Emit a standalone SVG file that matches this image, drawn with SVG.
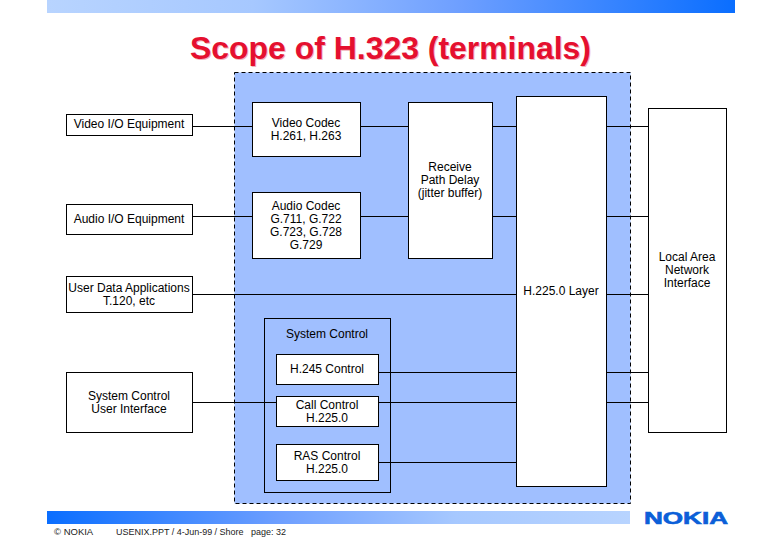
<svg xmlns="http://www.w3.org/2000/svg" width="780" height="540" viewBox="0 0 780 540">
<style>
.b{fill:#fff;stroke:#000;stroke-width:1}
.c{fill:none;stroke:#000;stroke-width:1}
text{font-family:"Liberation Sans",Arial,sans-serif;font-size:12px;fill:#000;text-anchor:middle}
.f{font-size:9.5px;text-anchor:start;fill:#222}
.t{font-size:32px;font-weight:bold}
</style>
<defs>
<linearGradient id="g1" x1="0" x2="1" y1="0" y2="0"><stop offset="0" stop-color="#b8d4ff"/><stop offset="0.3" stop-color="#a6c8ff"/><stop offset="0.6" stop-color="#6e9fff"/><stop offset="1" stop-color="#0a6eff"/></linearGradient>
<linearGradient id="g2" x1="0" x2="1" y1="0" y2="0"><stop offset="0" stop-color="#0a6eff"/><stop offset="0.4" stop-color="#6e9fff"/><stop offset="0.7" stop-color="#a6c8ff"/><stop offset="1" stop-color="#b8d4ff"/></linearGradient>
</defs>
<rect width="780" height="540" fill="#fff"/>
<rect id="top-band" x="47" y="0" width="688" height="13" fill="url(#g1)"/>
<rect id="bottom-band" x="47" y="511" width="583" height="13" fill="url(#g2)"/>
<g id="title">
<text class="t" x="391.500" y="60" textLength="401" lengthAdjust="spacingAndGlyphs" style="fill:#f0b4bd">Scope of H.323 (terminals)</text>
<text class="t" x="390.500" y="59" textLength="401" lengthAdjust="spacingAndGlyphs" style="fill:#e5102f">Scope of H.323 (terminals)</text>
</g>
<g id="scope"><rect x="234.500" y="72.500" width="396" height="431" fill="#a0bfff" stroke="#000" stroke-dasharray="4 3"/></g>
<g id="connectors">
<path class="c" d="M192.500 126.500H252.500M360.500 126.500H408.500M492.500 126.500H516.500M606.500 126.500H648.500"/>
<path class="c" d="M192.500 216.500H252.500M360.500 216.500H408.500M492.500 216.500H516.500M606.500 216.500H648.500"/>
<path class="c" d="M192.500 294.500H516.500M606.500 294.500H648.500"/>
<path class="c" d="M378.500 372.500H516.500M606.500 372.500H648.500"/>
<path class="c" d="M192.500 402.500H276.500M378.500 402.500H516.500M606.500 402.500H648.500"/>
<path class="c" d="M378.500 462.500H516.500"/>
</g>
<g id="video-io"><rect class="b" x="66.500" y="114.500" width="126" height="21"/><text x="129" y="128">Video I/O Equipment</text></g>
<g id="audio-io"><rect class="b" x="66.500" y="204.500" width="126" height="30"/><text x="129" y="223">Audio I/O Equipment</text></g>
<g id="user-data"><rect class="b" x="66.500" y="276.500" width="126" height="36"/><text x="129" y="292">User Data Applications</text><text x="129" y="305">T.120, etc</text></g>
<g id="sys-ui"><rect class="b" x="66.500" y="372.500" width="126" height="60"/><text x="129" y="400">System Control</text><text x="129" y="413">User Interface</text></g>
<g id="video-codec"><rect class="b" x="252.500" y="102.500" width="108" height="54"/><text x="306" y="127">Video Codec</text><text x="306" y="140">H.261, H.263</text></g>
<g id="audio-codec"><rect class="b" x="252.500" y="192.500" width="108" height="66"/><text x="306" y="210">Audio Codec</text><text x="306" y="223">G.711, G.722</text><text x="306" y="236">G.723, G.728</text><text x="306" y="249">G.729</text></g>
<g id="receive"><rect class="b" x="408.500" y="102.500" width="84" height="156"/><text x="450" y="171">Receive</text><text x="450" y="184">Path Delay</text><text x="450" y="197">(jitter buffer)</text></g>
<g id="h225"><rect class="b" x="516.500" y="96.500" width="90" height="390"/><text x="561" y="295">H.225.0 Layer</text></g>
<g id="lan"><rect class="b" x="648.500" y="108.500" width="78" height="324"/><text x="687" y="261">Local Area</text><text x="687" y="274">Network</text><text x="687" y="287">Interface</text></g>
<g id="system-control"><rect x="264.500" y="318.500" width="126" height="174" fill="none" stroke="#000"/><text x="327" y="338">System Control</text></g>
<g id="h245"><rect class="b" x="276.500" y="354.500" width="102" height="30"/><text x="327" y="373">H.245 Control</text></g>
<g id="call"><rect class="b" x="276.500" y="396.500" width="102" height="30"/><text x="327" y="409">Call Control</text><text x="327" y="422">H.225.0</text></g>
<g id="ras"><rect class="b" x="276.500" y="444.500" width="102" height="36"/><text x="327" y="460">RAS Control</text><text x="327" y="473">H.225.0</text></g>
<g id="footer"><text class="f" x="54" y="535">© NOKIA</text><text class="f" x="116" y="535" xml:space="preserve" textLength="170" lengthAdjust="spacingAndGlyphs">USENIX.PPT / 4-Jun-99 / Shore   page: 32</text></g>
<g id="logo"><text x="686" y="524" textLength="84" lengthAdjust="spacingAndGlyphs" style="font-size:17px;font-weight:bold;fill:#0b5fd8;stroke:#0b5fd8;stroke-width:.6">NOKIA</text></g>
</svg>
